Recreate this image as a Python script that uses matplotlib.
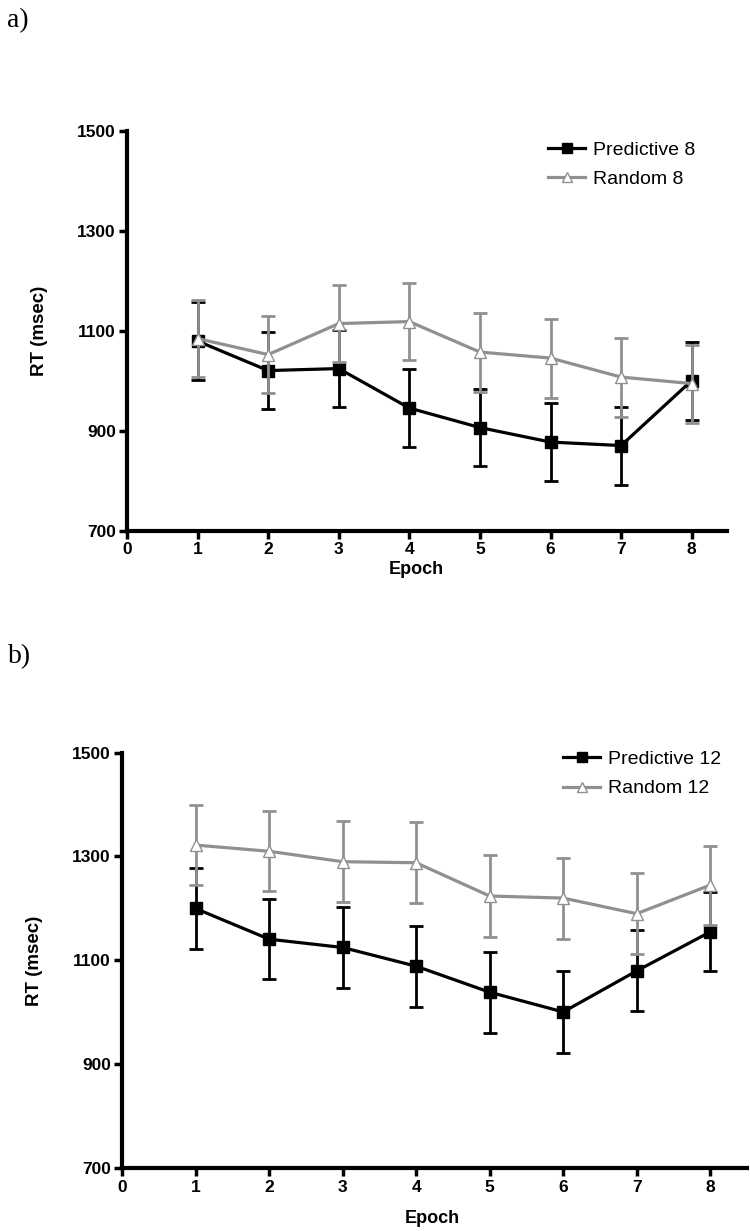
import matplotlib
matplotlib.use("Agg")
import matplotlib.pyplot as plt
from matplotlib.lines import Line2D

epochs = [1, 2, 3, 4, 5, 6, 7, 8]

# Panel a
pred8 = [1080, 1021, 1025, 946, 907, 878, 871, 1001]
pred8_err = [78, 77, 77, 78, 77, 78, 78, 78]
rand8 = [1085, 1053, 1115, 1119, 1058, 1046, 1008, 995]
rand8_err = [77, 77, 77, 77, 79, 79, 79, 78]

# Panel b
pred12 = [1200, 1141, 1125, 1089, 1039, 1001, 1080, 1155]
pred12_err = [77, 77, 78, 78, 78, 78, 78, 76]
rand12 = [1322, 1310, 1290, 1288, 1224, 1220, 1190, 1245]
rand12_err = [77, 77, 78, 78, 78, 78, 78, 76]

yticks = [700, 900, 1100, 1300, 1500]
xticks = [0, 1, 2, 3, 4, 5, 6, 7, 8]

GRAY = "#909090"
plt.rcParams['font.family'] = ['Liberation Sans', 'DejaVu Sans']

fig = plt.figure(figsize=(7.5, 12.31), dpi=100)

def panel(rect, pred, pred_err, rand, rand_err, lab_pred, lab_rand, leg_anchor, xlab_xy):
    ax = fig.add_axes(rect)
    ax.errorbar(epochs, pred, yerr=pred_err, color="black", lw=2.3, elinewidth=2,
                capsize=5, capthick=2, marker="s", ms=8, mfc="black", mec="black", zorder=3)
    ax.errorbar(epochs, rand, yerr=rand_err, color=GRAY, lw=2.3, elinewidth=2,
                capsize=5, capthick=2, marker="^", ms=8, mfc="white", mec=GRAY, zorder=4)
    ax.set_xlim(0, 8.5)
    ax.set_ylim(700, 1500)
    ax.set_xticks(xticks)
    ax.set_yticks(yticks)
    for s in ["top", "right"]:
        ax.spines[s].set_visible(False)
    for s in ["left", "bottom"]:
        ax.spines[s].set_linewidth(3)
    ax.tick_params(width=2.5, length=6, labelsize=12.5, pad=2)
    for t in ax.get_xticklabels() + ax.get_yticklabels():
        t.set_fontweight("bold")
    ax.set_xlabel("Epoch", fontsize=13, fontweight="bold")
    ax.xaxis.set_label_coords(*xlab_xy)
    ax.set_ylabel("RT (msec)", fontsize=13.5, fontweight="bold", labelpad=21)
    h1 = Line2D([], [], color="black", lw=2.3, marker="s", ms=7.5, mfc="black", mec="black")
    h2 = Line2D([], [], color=GRAY, lw=2.3, marker="^", ms=7.5, mfc="white", mec=GRAY)
    ax.legend([h1, h2], [lab_pred, lab_rand], loc="upper left", bbox_to_anchor=leg_anchor,
              frameon=False, fontsize=14, handlelength=1.9, handletextpad=0.4,
              labelspacing=0.6, borderpad=0, borderaxespad=0)
    return ax

panel([0.1693, 0.5686, 0.8, 0.3249], pred8, pred8_err, rand8, rand8_err,
      "Predictive 8", "Random 8", (0.702, 0.975), (0.482, -0.075))
panel([0.1627, 0.0508, 0.8333, 0.3379], pred12, pred12_err, rand12, rand12_err,
      "Predictive 12", "Random 12", (0.706, 1.005), (0.497, -0.100))

fig.text(0.010, 0.983, "a)", fontsize=20, family="Liberation Serif", va="center", ha="left")
fig.text(0.010, 0.467, "b)", fontsize=20, family="Liberation Serif", va="center", ha="left")

fig.savefig("out.png", dpi=100)
